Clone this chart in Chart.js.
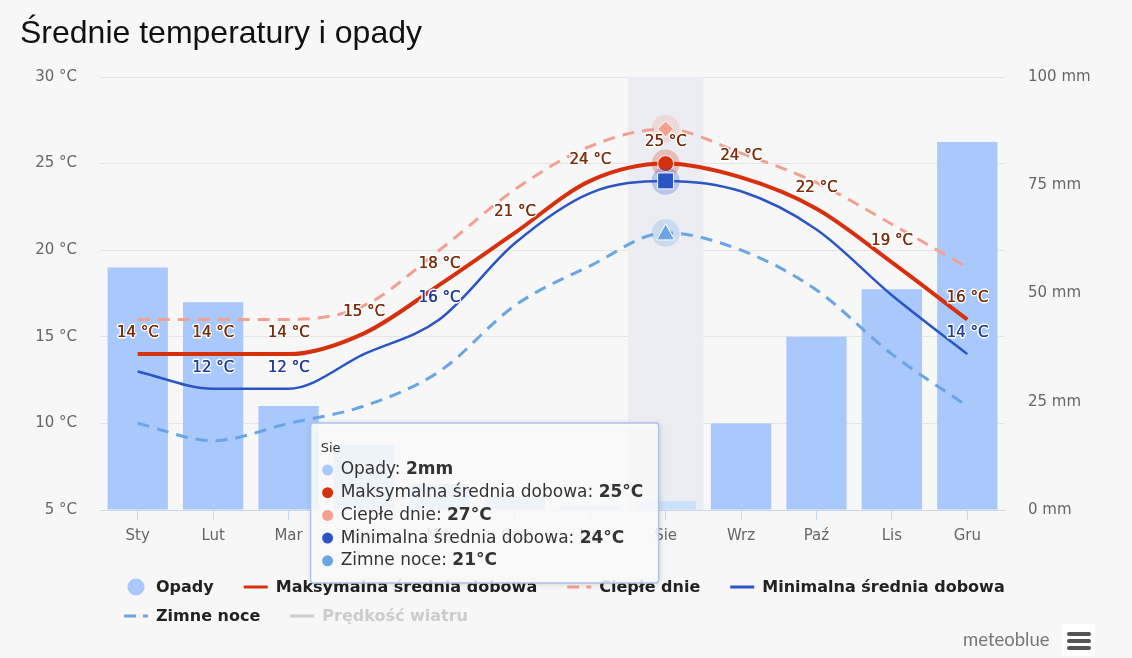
<!DOCTYPE html>
<html lang="pl">
<head>
<meta charset="utf-8">
<title>Średnie temperatury i opady</title>
<script src="https://cdn.jsdelivr.net/npm/chart.js@4.4.1/dist/chart.umd.min.js"></script>
<style>
  html, body { margin: 0; padding: 0; background: #f7f7f7; }
  #wrap { position: relative; width: 1132px; height: 658px; overflow: hidden; }
  #chart { position: absolute; left: 0; top: 0; }
  h1 { position: absolute; left: 20px; top: 14px; margin: 0; font: 400 32px 'Liberation Sans', Arial, sans-serif; color: #111; }
  .brand { position: absolute; left: 963px; top: 628px; font: 18.5px 'Lato', sans-serif; color: #777; }
  .menu { position: absolute; left: 1062px; top: 624px; width: 33px; height: 32px; background: #fff; }
  .menu span { position: absolute; left: 5px; width: 24px; height: 4px; border-radius: 2px; background: #555; }
</style>
</head>
<body>
<div id="wrap">
  <canvas id="chart" width="1132" height="658"></canvas>
  <h1>Średnie temperatury i opady</h1>
  <div class="brand">meteoblue</div>
  <div class="menu"><span style="top:8px"></span><span style="top:15px"></span><span style="top:22px"></span></div>
</div>
<script>
const months = ['Sty', 'Lut', 'Mar', 'Kwi', 'Maj', 'Cze', 'Lip', 'Sie', 'Wrz', 'Paź', 'Lis', 'Gru'];
const precip = [56, 48, 24, 15, 6, 3, 1, 2, 20, 40, 51, 85];
const tempMax = [14, 14, 14, 15.2, 18, 21, 24, 25, 24.2, 22.4, 19.3, 16];
const warmDays = [16, 16, 16, 16.8, 20, 23.5, 26, 27, 25.6, 23.9, 21.5, 19];
const tempMin = [13, 12, 12, 14, 16, 20.4, 23.3, 24, 23.4, 21.2, 17.4, 14];
const coldNights = [10, 9, 10, 11, 13, 16.8, 19.1, 21, 20, 17.7, 14, 11];
const tempTicks = [5, 10, 15, 20, 25, 30];
const precipTicks = [0, 25, 50, 75, 100];
const minLabelShown = [false, true, true, false, true, false, false, false, false, false, false, true];
const activeIndex = 7;

const FONT = "'DejaVu Sans', Verdana, sans-serif";

const bandPlugin = {
  id: 'band',
  beforeDatasetsDraw(chart) {
    const { ctx, chartArea, scales: { x } } = chart;
    const w = x.getPixelForValue(1) - x.getPixelForValue(0);
    const cx = x.getPixelForValue(activeIndex);
    ctx.save();
    ctx.fillStyle = '#ebedf3';
    ctx.fillRect(cx - w / 2, chartArea.top, w, chartArea.bottom - chartArea.top);
    ctx.restore();
  }
};

function drawMarker(ctx, style, x, y, color) {
  ctx.fillStyle = color;
  ctx.strokeStyle = '#fff';
  ctx.lineWidth = 1;
  ctx.beginPath();
  if (style === 'circle') ctx.arc(x, y, 8, 0, Math.PI * 2);
  else if (style === 'rect') ctx.rect(x - 8, y - 8, 16, 16);
  else if (style === 'rectRot') { ctx.moveTo(x, y - 8); ctx.lineTo(x + 8, y); ctx.lineTo(x, y + 8); ctx.lineTo(x - 8, y); ctx.closePath(); }
  else if (style === 'triangle') { ctx.moveTo(x, y - 9); ctx.lineTo(x + 9, y + 7); ctx.lineTo(x - 9, y + 7); ctx.closePath(); }
  ctx.fill();
  ctx.stroke();
}

const overlayPlugin = {
  id: 'overlay',
  afterDatasetsDraw(chart) {
    const { ctx } = chart;
    ctx.save();
    // hover markers
    chart.data.datasets.forEach((ds, i) => {
      if (!ds.marker || ds.hidden) return;
      const el = chart.getDatasetMeta(i).data[activeIndex];
      ctx.globalAlpha = 0.25;
      ctx.fillStyle = ds.borderColor;
      ctx.beginPath();
      ctx.arc(el.x, el.y, 14, 0, Math.PI * 2);
      ctx.fill();
      ctx.globalAlpha = 1;
      drawMarker(ctx, ds.marker, el.x, el.y, ds.borderColor);
    });
    // data labels
    ctx.font = '15px ' + FONT;
    ctx.textAlign = 'center';
    ctx.textBaseline = 'middle';
    ctx.lineJoin = 'round';
    chart.data.datasets.forEach((ds, i) => {
      if (!ds.labelColor) return;
      chart.getDatasetMeta(i).data.forEach((el, j) => {
        if (ds.labelShown && !ds.labelShown[j]) return;
        const txt = Math.round(ds.data[j]) + ' °C';
        ctx.strokeStyle = '#fff';
        ctx.lineWidth = 3;
        ctx.strokeText(txt, el.x, el.y - 21);
        ctx.fillStyle = ds.labelColor;
        ctx.fillText(txt, el.x, el.y - 21);
        ctx.fillText(txt, el.x + 0.4, el.y - 21);
      });
    });
    ctx.restore();
  },
  afterDraw(chart) {
    const { ctx, chartArea, scales: { x } } = chart;
    const sets = chart.data.datasets;
    ctx.save();
    // legend
    ctx.font = 'bold 16px ' + FONT;
    ctx.textBaseline = 'middle';
    ctx.textAlign = 'left';
    const items = sets.map(ds => ({ ds, w: 32 + ctx.measureText(ds.label).width }));
    const row1 = items.slice(0, 4), row2 = items.slice(4);
    const row1W = row1.reduce((s, it) => s + it.w, 0) + 30 * (row1.length - 1);
    const startX = Math.round((chart.width - row1W) / 2) - 2;
    [[row1, 587], [row2, 616]].forEach(([row, y]) => {
      let cx = startX;
      row.forEach(({ ds, w }) => {
        const col = ds.legendGray ? '#cccccc' : ds.borderColor;
        if (ds.type === 'bar') {
          ctx.fillStyle = ds.legendColor;
          ctx.beginPath();
          ctx.arc(cx + 12, y, 8.5, 0, Math.PI * 2);
          ctx.fill();
        } else {
          ctx.strokeStyle = col;
          ctx.lineWidth = 3;
          ctx.setLineDash(ds.borderDash && ds.borderDash.length ? [12, 7] : []);
          ctx.beginPath();
          ctx.moveTo(cx, y);
          ctx.lineTo(cx + 24, y);
          ctx.stroke();
          ctx.setLineDash([]);
        }
        ctx.fillStyle = ds.legendGray ? '#cccccc' : '#222';
        ctx.fillText(ds.label, cx + 32, y + 1);
        cx += w + 30;
      });
    });
    // tooltip
    const cx = x.getPixelForValue(activeIndex);
    const bx = cx - 355, by = chartArea.bottom - 87, bw = 348, bh = 160;
    ctx.shadowColor = 'rgba(0,0,0,0.18)';
    ctx.shadowBlur = 6;
    ctx.shadowOffsetX = 1;
    ctx.shadowOffsetY = 1;
    ctx.fillStyle = 'rgba(255,255,255,0.85)';
    ctx.beginPath();
    ctx.roundRect(bx, by, bw, bh, 3);
    ctx.fill();
    ctx.shadowColor = 'transparent';
    ctx.strokeStyle = '#a9c3ea';
    ctx.lineWidth = 1.5;
    ctx.stroke();
    ctx.fillStyle = '#333';
    ctx.font = '13px ' + FONT;
    ctx.fillText(months[activeIndex], bx + 10, by + 26);
    let ty = by + 47;
    sets.forEach(ds => {
      if (ds.hidden) return;
      const v = ds.data[activeIndex];
      ctx.fillStyle = ds.type === 'bar' ? ds.legendColor : ds.borderColor;
      ctx.beginPath();
      ctx.arc(bx + 17, ty, 5.5, 0, Math.PI * 2);
      ctx.fill();
      ctx.fillStyle = '#333';
      ctx.font = '17px ' + FONT;
      const lab = ds.label + ': ';
      ctx.fillText(lab, bx + 30, ty);
      const lw = ctx.measureText(lab).width;
      ctx.font = 'bold 17px ' + FONT;
      ctx.fillText(Math.round(v) + (ds.type === 'bar' ? 'mm' : '°C'), bx + 30 + lw, ty);
      ty += 22.7;
    });
    ctx.restore();
  }
};

const lineBase = { type: 'line', yAxisID: 'y', pointRadius: 0, cubicInterpolationMode: 'monotone', fill: false };

new Chart(document.getElementById('chart'), {
  data: {
    labels: months,
    datasets: [
      {
        type: 'bar', label: 'Opady', data: precip, yAxisID: 'y2', order: 10,
        legendColor: '#a9c8fb',
        backgroundColor: precip.map((v, i) => i === activeIndex ? '#c9e0fb' : '#a9c8fb'),
        barPercentage: 0.8, categoryPercentage: 1, borderWidth: 0
      },
      { ...lineBase, label: 'Maksymalna średnia dobowa', data: tempMax, borderColor: '#d7300c', borderWidth: 4, order: 1, marker: 'circle', labelColor: '#7a2e0c' },
      { ...lineBase, label: 'Ciepłe dnie', data: warmDays, borderColor: '#f4a090', borderWidth: 3, borderDash: [12, 8], order: 4, marker: 'rectRot' },
      { ...lineBase, label: 'Minimalna średnia dobowa', data: tempMin, borderColor: '#2a55c5', borderWidth: 2.5, order: 2, marker: 'rect', labelColor: '#1f3d99', labelShown: minLabelShown },
      { ...lineBase, label: 'Zimne noce', data: coldNights, borderColor: '#6aa6e4', borderWidth: 3, borderDash: [12, 8], order: 5, marker: 'triangle' },
      { ...lineBase, label: 'Prędkość wiatru', data: [], borderColor: '#cccccc', borderWidth: 2, hidden: true, legendGray: true, order: 6 }
    ]
  },
  options: {
    responsive: false,
    animation: false,
    devicePixelRatio: 1,
    events: [],
    layout: { padding: { top: 77, bottom: 108, left: 0, right: 0 } },
    plugins: { legend: { display: false }, tooltip: { enabled: false } },
    scales: {
      x: {
        offset: true,
        grid: { display: true, drawOnChartArea: false, offset: false, tickLength: 10, color: '#ccd6eb' },
        border: { color: '#ccd6eb' },
        ticks: { color: '#666', font: { family: FONT, size: 15 }, padding: 7 },
        afterFit: s => { s.height = 40; }
      },
      y: {
        min: 5, max: 30,
        afterBuildTicks: s => { s.ticks = tempTicks.map(v => ({ value: v })); },
        ticks: { color: '#666', font: { family: FONT, size: 15 }, padding: 23, callback: v => v + ' °C' },
        grid: { color: '#e4e4e4', drawTicks: false },
        border: { display: false },
        afterFit: s => { s.width = 100; }
      },
      y2: {
        position: 'right', min: 0, max: 100,
        afterBuildTicks: s => { s.ticks = precipTicks.map(v => ({ value: v })); },
        ticks: { color: '#666', font: { family: FONT, size: 15 }, padding: 23, callback: v => v + ' mm' },
        grid: { drawOnChartArea: false, drawTicks: false },
        border: { display: false },
        afterFit: s => { s.width = 127; }
      }
    }
  },
  plugins: [bandPlugin, overlayPlugin]
});
</script>
</body>
</html>
